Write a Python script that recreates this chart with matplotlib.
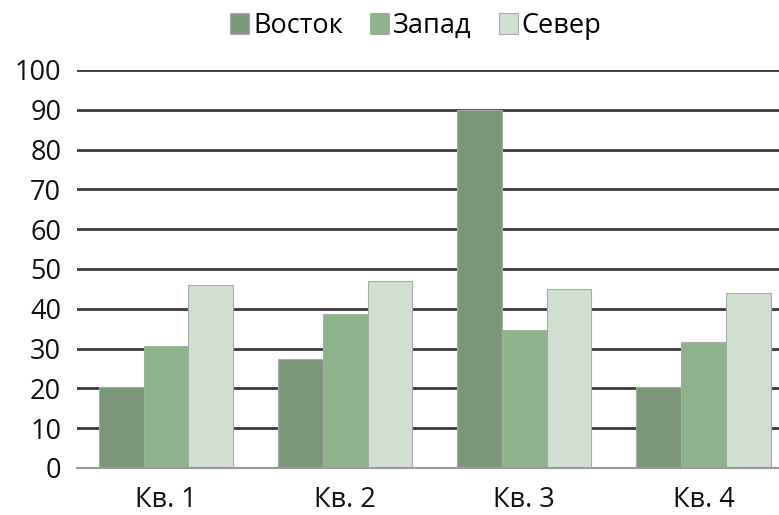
import matplotlib
matplotlib.use("Agg")
import matplotlib.pyplot as plt
import numpy as np
from matplotlib.patches import Patch

categories = ["Кв. 1", "Кв. 2", "Кв. 3", "Кв. 4"]
series_names = ["Восток", "Запад", "Север"]
east = [20.4, 27.4, 90, 20.4]
west = [30.6, 38.6, 34.6, 31.6]
north = [45.9, 46.9, 45, 43.9]
yticks = [0, 10, 20, 30, 40, 50, 60, 70, 80, 90, 100]

colors = ["#7a9878", "#8db38a", "#d0dfd0"]

plt.rcParams['font.family'] = ['Open Sans', 'DejaVu Sans']

fig = plt.figure(figsize=(7.79, 5.15), dpi=100)
W, H = 779, 515
left_px, right_px, bottom_px, top_px = 76.5, 793, 468, 70
ax = fig.add_axes([left_px / W, (H - bottom_px) / H, (right_px - left_px) / W, (bottom_px - top_px) / H])

x = np.arange(len(categories))
bw = 0.25
for i, (vals, c) in enumerate(zip([east, west, north], colors)):
    ax.bar(x + (i - 1) * bw, vals, width=bw, color=c, edgecolor="#a8aca8", linewidth=0.8, zorder=3)

ax.set_xlim(-0.5, 3.5)
ax.set_ylim(0, 100)
ax.set_yticks(yticks)
ax.set_yticklabels([str(t) for t in yticks], fontsize=19.5, color="#111111")
ax.set_xticks(x)
ax.set_xticklabels(categories, fontsize=19.5, color="#111111")
ax.tick_params(axis='y', length=0, pad=11)
ax.tick_params(axis='x', length=0, pad=13)
for t in yticks[1:]:
    ax.axhline(t, color="#3a3a3a", linewidth=2.0, zorder=1)
for s in ["top", "right", "left"]:
    ax.spines[s].set_visible(False)
ax.spines["bottom"].set_color("#9a9a9a")
ax.spines["bottom"].set_linewidth(1.5)
ax.spines["bottom"].set_zorder(4)

handles = [Patch(facecolor=c, edgecolor="#a8aca8", linewidth=0.8) for c in colors]
fig.legend(handles, series_names, loc="center", bbox_to_anchor=(416 / W, 1 - 26 / H), ncol=3,
           frameon=False, fontsize=19.5, handlelength=0.7, handleheight=0.85,
           handletextpad=0.15, columnspacing=1.0)

fig.savefig("out.png", dpi=100)
